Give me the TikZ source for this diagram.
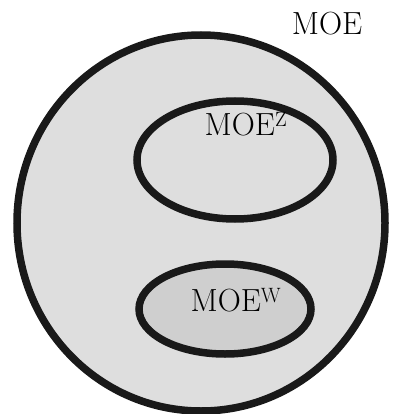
\documentclass[tikz,border=0pt]{standalone}
\begin{document}
\begin{tikzpicture}[x=1pt,y=-1pt,
  setline/.style={draw=black!90, line width=7.5pt},
  lbl/.style={font=\fontsize{32}{36}\selectfont, inner sep=0pt}]
\useasboundingbox (0,0) rectangle (392,414);
\fill[white] (0,0) rectangle (392,414);
\draw[setline, fill=black!13] (201,223) ellipse [x radius=184, y radius=188];
\draw[setline, fill=black!13] (235,160) ellipse [x radius=98, y radius=59];
\draw[setline, fill=black!19] (225,309) ellipse [x radius=86, y radius=45];
\node[lbl] (moe) at (327,24) {MOE};
\node[lbl] (moez) at (246,124) {MOE$^{\mathrm{Z}}$};
\node[lbl] (moew) at (236,300) {MOE$^{\mathrm{W}}$};
\end{tikzpicture}
\end{document}
